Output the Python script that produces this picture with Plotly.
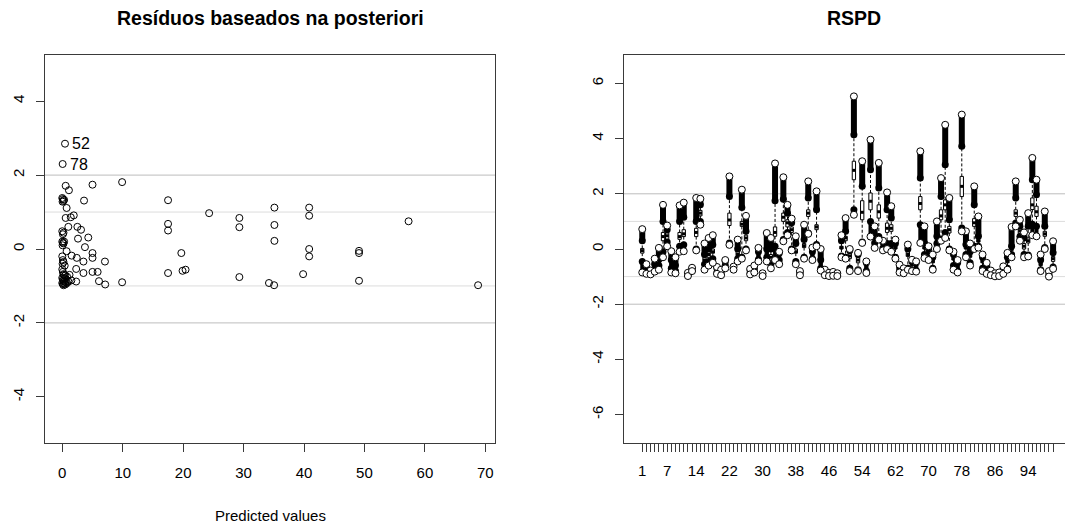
import plotly.graph_objects as go

# ---------------- left panel: posterior residuals vs predicted values ----------------
pred = [0.56, 1.1, 5.0, 9.9, 0.0, 0.1, 0.2, 0.05, 0.3, 3.6,
        0.72, 0.56, 1.4, 1.9, 1.0, 2.5, 3.1, 0.0, 0.1, 0.2,
        2.6, 4.3, 3.75, 0.0, 0.1, 0.2, 0.05, 0.3, 0.72, 1.55,
        2.4, 5.0, 5.0, 3.5, 7.06, 0.0, 0.1, 0.2, 0.05, 0.4,
        2.3, 3.5, 5.0, 5.85, 0.0, 0.1, 0.2, 0.3, 0.5, 0.8,
        1.2, 0.0, 0.1, 0.2, 0.3, 0.4, 0.6, 1.0, 1.5, 2.3,
        0.0, 0.1, 0.2, 0.3, 0.5, 0.8, 6.07, 7.1, 9.9, 17.5,
        17.5, 17.5, 17.5, 19.7, 19.9, 20.4, 24.3, 29.3, 29.3, 29.3,
        34.2, 35.05, 35.1, 35.1, 35.1, 39.85, 40.85, 40.85, 40.85, 40.85,
        49.1, 49.1, 49.1, 57.3, 68.8, 0.45, 0.06]
resid = [1.71, 1.59, 1.74, 1.81, 1.38, 1.35, 1.30, 1.28, 1.33, 1.31,
         1.11, 0.84, 0.86, 0.91, 0.60, 0.60, 0.52, 0.48, 0.40, 0.44,
         0.28, 0.31, 0.05, 0.20, 0.17, 0.15, 0.10, 0.20, -0.06, -0.18,
         -0.24, -0.11, -0.24, -0.34, -0.34, -0.20, -0.30, -0.35, -0.40, -0.45,
         -0.54, -0.65, -0.62, -0.62, -0.55, -0.62, -0.68, -0.70, -0.72, -0.75,
         -0.70, -0.78, -0.82, -0.85, -0.88, -0.80, -0.90, -0.88, -0.85, -0.88,
         -0.92, -0.95, -0.98, -0.93, -0.96, -0.92, -0.87, -0.96, -0.90, 1.32,
         0.68, 0.50, -0.65, -0.11, -0.59, -0.56, 0.97, 0.84, 0.59, -0.76,
         -0.92, -0.98, 1.12, 0.65, 0.22, -0.68, 1.12, 0.90, 0.00, -0.20,
         -0.05, -0.11, -0.86, 0.75, -0.98, 2.85, 2.30]
flag_ids = ["52", "78"]
flag_pred = [0.45, 0.06]
flag_resid = [2.85, 2.30]
left_ticks_x = [0, 10, 20, 30, 40, 50, 60, 70]
left_ticks_y = [-4, -2, 0, 2, 4]

# ---------------- right panel: per-observation residual distributions ----------------
obs = list(range(1, 101))
dn_lo = [-0.85, -0.90, -0.92, -0.82, -0.75, -0.30, 0.10, -0.85, -0.88, -0.10,
         -0.08, -0.98, -0.80, -0.05, 0.88, -0.75, -0.60, -0.50, -0.90, -0.95,
         -0.70, 0.15, -0.75, -0.45, -0.35, -0.05, -0.92, -0.85, -0.45, -0.98,
         -0.45, -0.70, -0.40, -0.55, 0.28, 0.50, -0.05, -0.55, -0.95, -0.35,
         0.55, -0.40, 0.10, -0.78, -0.95, -0.98, -0.97, -0.98, -0.30, -0.35,
         -0.80, 1.24, -0.80, 0.22, -0.87, 0.45, 0.04, 0.34, -0.05, 0.00,
         -0.10, -0.35, -0.85, -0.88, -0.75, -0.80, -0.82, 0.22, -0.33, -0.40,
         -0.75, 0.00, 0.30, 0.40, -0.05, -0.75, -0.85, 0.64, -0.30, -0.60,
         0.00, 0.05, -0.80, -0.90, -0.95, -0.99, -0.98, -0.90, -0.75, -0.30,
         0.82, 0.30, -0.30, -0.27, 0.50, 0.46, -0.80, 0.00, -1.00, -0.72]
dn_hi = [-0.45, -0.85, -0.90, -0.78, -0.60, -0.10, 0.25, -0.70, -0.80, 0.10,
         0.15, -0.95, -0.78, 0.00, 1.00, -0.55, -0.45, -0.35, -0.85, -0.90,
         -0.60, 0.22, -0.72, -0.35, -0.30, 0.00, -0.88, -0.80, -0.38, -0.95,
         -0.30, -0.55, 0.10, -0.40, 0.34, 0.60, 0.00, -0.45, -0.90, -0.30,
         0.58, -0.35, 0.16, -0.70, -0.90, -0.95, -0.94, -0.96, -0.25, -0.30,
         -0.70, 1.42, -0.75, 0.25, -0.80, 1.00, 0.22, 0.45, 0.04, 0.20,
         0.20, -0.30, -0.80, -0.85, -0.70, -0.75, -0.78, 0.88, -0.20, -0.35,
         -0.70, 0.20, 0.34, 0.60, 0.00, -0.60, -0.80, 0.76, -0.20, -0.50,
         0.10, 0.10, -0.70, -0.85, -0.92, -0.96, -0.95, -0.85, -0.70, -0.20,
         0.94, 0.45, -0.20, -0.22, 0.90, 0.82, -0.75, 0.05, -0.95, -0.65]
q1 = [-0.15, -0.80, -0.88, -0.72, -0.50, 0.30, 0.35, -0.60, -0.75, 0.35,
      0.45, -0.93, -0.76, 0.45, 1.20, -0.45, -0.30, -0.15, -0.80, -0.88,
      -0.55, 0.85, -0.70, -0.25, 0.82, 0.30, -0.85, -0.78, -0.30, -0.94,
      -0.20, -0.40, 0.46, -0.30, 1.00, 0.80, 0.60, -0.15, -0.88, 0.05,
      1.18, -0.25, 0.70, -0.60, -0.88, -0.93, -0.92, -0.95, 0.00, 0.30,
      -0.35, 2.51, -0.50, 1.06, -0.70, 1.42, 0.35, 1.12, 0.10, 0.60,
      0.64, 0.00, -0.75, -0.82, -0.27, -0.60, -0.70, 1.42, 0.00, -0.20,
      -0.50, 0.30, 1.06, 1.42, 0.58, -0.40, -0.70, 1.90, 0.00, -0.30,
      0.82, 0.25, -0.50, -0.75, -0.90, -0.95, -0.93, -0.80, -0.50, -0.05,
      1.18, 0.55, 0.00, 0.22, 1.43, 1.18, -0.60, 0.46, -0.92, -0.45]
med = [-0.06, -0.75, -0.86, -0.65, -0.45, 0.45, 0.48, -0.55, -0.70, 0.45,
       0.55, -0.92, -0.74, 0.60, 1.30, -0.40, -0.20, -0.10, -0.78, -0.86,
       -0.50, 1.05, -0.69, -0.20, 0.90, 0.40, -0.82, -0.76, -0.25, -0.93,
       -0.15, -0.30, 0.60, -0.25, 1.15, 0.95, 0.70, -0.10, -0.87, 0.12,
       1.30, -0.20, 0.80, -0.55, -0.86, -0.92, -0.91, -0.94, 0.05, 0.40,
       -0.25, 2.85, -0.40, 1.33, -0.65, 1.73, 0.40, 1.35, 0.15, 0.75,
       0.75, 0.05, -0.72, -0.80, -0.20, -0.55, -0.65, 1.65, 0.05, -0.15,
       -0.45, 0.35, 1.20, 1.60, 0.70, -0.35, -0.65, 2.27, 0.05, -0.25,
       0.95, 0.30, -0.45, -0.70, -0.88, -0.94, -0.92, -0.78, -0.45, 0.00,
       1.30, 0.65, 0.10, 0.30, 1.60, 1.35, -0.55, 0.55, -0.90, -0.35]
q3 = [0.02, -0.70, -0.84, -0.60, -0.42, 0.60, 0.58, -0.50, -0.65, 0.60,
      0.70, -0.90, -0.72, 0.75, 1.40, -0.30, -0.10, 0.00, -0.75, -0.84,
      -0.48, 1.30, -0.68, -0.10, 1.00, 0.50, -0.80, -0.74, -0.20, -0.92,
      -0.10, -0.20, 0.80, -0.20, 1.30, 1.06, 0.80, 0.00, -0.86, 0.20,
      1.42, -0.15, 0.88, -0.50, -0.84, -0.91, -0.90, -0.93, 0.10, 0.46,
      -0.15, 3.18, -0.30, 1.75, -0.60, 2.03, 0.45, 1.60, 0.20, 0.94,
      0.88, 0.10, -0.70, -0.78, -0.10, -0.50, -0.60, 1.90, 0.10, -0.10,
      -0.40, 0.40, 1.42, 1.78, 0.82, -0.30, -0.60, 2.63, 0.10, -0.20,
      1.10, 0.35, -0.40, -0.68, -0.86, -0.93, -0.91, -0.75, -0.40, 0.05,
      1.42, 0.75, 0.20, 0.40, 1.85, 1.55, -0.50, 0.64, -0.88, -0.27]
up_lo = [0.30, -0.62, -0.80, -0.55, -0.38, 1.00, 0.70, -0.40, -0.60, 1.00,
         1.15, -0.88, -0.70, 1.00, 1.60, -0.20, 0.00, 0.15, -0.70, -0.80,
         -0.45, 1.90, -0.66, 0.00, 1.50, 0.64, -0.78, -0.70, -0.10, -0.90,
         0.00, 0.00, 1.75, -0.15, 1.80, 1.30, 0.95, 0.20, -0.84, 0.34,
         1.85, -0.10, 1.42, -0.40, -0.80, -0.88, -0.87, -0.90, 0.30, 0.64,
         -0.05, 4.14, -0.20, 2.27, -0.50, 2.87, 0.46, 2.21, 0.25, 1.42,
         1.12, 0.20, -0.65, -0.74, 0.00, -0.45, -0.50, 2.57, 0.22, 0.00,
         -0.30, 0.46, 1.90, 3.05, 1.06, -0.20, -0.50, 3.72, 0.16, -0.10,
         1.60, 0.46, -0.30, -0.60, -0.82, -0.90, -0.88, -0.70, -0.30, 0.10,
         1.85, 0.82, 0.40, 0.82, 2.51, 1.97, -0.40, 0.82, -0.85, -0.14]
up_hi = [0.72, -0.55, -0.78, -0.35, 0.04, 1.60, 0.85, -0.08, -0.30, 1.58,
         1.68, -0.86, -0.68, 1.85, 1.82, 0.20, 0.40, 0.50, -0.65, -0.75,
         -0.40, 2.63, -0.64, 0.34, 2.15, 1.20, -0.72, -0.60, 0.04, -0.88,
         0.58, 0.40, 3.10, -0.10, 2.60, 1.60, 1.10, 0.46, -0.80, 0.88,
         2.45, 0.05, 2.09, 0.00, -0.75, -0.86, -0.83, -0.88, 0.50, 1.12,
         0.00, 5.53, -0.14, 3.18, -0.45, 3.96, 0.82, 3.12, 0.30, 2.05,
         1.55, 0.34, -0.57, -0.70, 0.16, -0.39, -0.45, 3.54, 0.82, 0.10,
         -0.20, 1.00, 2.57, 4.50, 1.85, -0.10, -0.40, 4.87, 0.64, 0.20,
         2.27, 1.18, -0.20, -0.50, -0.78, -0.88, -0.85, -0.63, -0.14, 0.80,
         2.45, 1.06, 0.60, 1.30, 3.30, 2.51, -0.20, 1.36, -0.80, 0.28]
right_labels = [1, 7, 14, 22, 30, 38, 46, 54, 62, 70, 78, 86, 94]
right_ticks_y = [-6, -4, -2, 0, 2, 4, 6]

FONT = "Liberation Sans, Arial, sans-serif"
AXC = "#3a3a3a"
half = 0.4  # half box width in observation units


def hy(v):
    # plain hyphen for negative tick labels
    return str(v).replace("\u2212", "-")


fig = go.Figure()

# left scatter
fig.add_trace(go.Scatter(
    x=pred, y=resid, mode="markers", xaxis="x", yaxis="y",
    marker=dict(symbol="circle-open", size=7, color="black", line=dict(width=1)),
    hoverinfo="skip"))

# whiskers (dashed)
wx, wy = [], []
for i, a, b, c, d in zip(obs, q3, up_lo, q1, dn_hi):
    wx += [i, i, None, i, i, None]
    wy += [a, b, None, c, d, None]
fig.add_trace(go.Scatter(x=wx, y=wy, mode="lines", xaxis="x2", yaxis="y2",
                         line=dict(color="black", width=1, dash="3px,2px"),
                         hoverinfo="skip"))

# boxes
bx, by = [], []
for i, lo, hi in zip(obs, q1, q3):
    bx += [i - half, i + half, i + half, i - half, i - half, None]
    by += [lo, lo, hi, hi, lo, None]
fig.add_trace(go.Scatter(x=bx, y=by, mode="lines", fill="toself",
                         fillcolor="white", xaxis="x2", yaxis="y2",
                         line=dict(color="black", width=1), hoverinfo="skip"))

# medians
mx, my = [], []
for i, m in zip(obs, med):
    mx += [i - half, i + half, None]
    my += [m, m, None]
fig.add_trace(go.Scatter(x=mx, y=my, mode="lines", xaxis="x2", yaxis="y2",
                         line=dict(color="black", width=3), hoverinfo="skip"))

# outlier clusters: dense stacks of circles
cx, cy = [], []
for i, a, b in zip(obs, up_lo, up_hi):
    cx += [i, i, None]
    cy += [a, b, None]
fig.add_trace(go.Scatter(x=cx, y=cy, mode="lines", xaxis="x2", yaxis="y2",
                         line=dict(color="black", width=6), hoverinfo="skip"))
lx, ly = [], []
for i, a, b in zip(obs, dn_lo, dn_hi):
    lx += [i, i, None]
    ly += [a, b, None]
fig.add_trace(go.Scatter(x=lx, y=ly, mode="lines", xaxis="x2", yaxis="y2",
                         line=dict(color="black", width=4), hoverinfo="skip"))
fig.add_trace(go.Scatter(
    x=obs + obs, y=up_lo + dn_hi, mode="markers",
    xaxis="x2", yaxis="y2",
    marker=dict(symbol="circle", size=7, color="black"), hoverinfo="skip"))
fig.add_trace(go.Scatter(
    x=obs + obs, y=up_hi + dn_lo, mode="markers", xaxis="x2", yaxis="y2",
    marker=dict(symbol="circle", size=7, color="white",
                line=dict(color="black", width=1)), hoverinfo="skip"))

# reference lines
shapes = []
for xr, yr in (("x domain", "y"), ("x2 domain", "y2")):
    for lv, col in ((2, "#bdbdbd"), (-2, "#bdbdbd"), (1, "#dcdcdc"), (-1, "#dcdcdc")):
        shapes.append(dict(type="line", xref=xr, yref=yr, x0=0, x1=1, y0=lv, y1=lv,
                           line=dict(color=col, width=1), layer="below"))

dom_y = [81 / 524, 469 / 524]
tickfont = dict(family=FONT, size=15, color="black")
common = dict(showgrid=False, zeroline=False, showline=True, linecolor=AXC,
              linewidth=1, ticks="outside", ticklen=8, tickcolor=AXC,
              tickwidth=1, tickfont=tickfont, automargin=False)

annotations = [
    dict(text="<b>Resíduos baseados na posteriori</b>", x=270 / 1065, y=1 - 18 / 524,
         xref="paper", yref="paper", showarrow=False, xanchor="center",
         yanchor="middle", font=dict(family=FONT, size=19.5, color="black")),
    dict(text="<b>RSPD</b>", x=854 / 1065, y=1 - 18 / 524,
         xref="paper", yref="paper", showarrow=False, xanchor="center",
         yanchor="middle", font=dict(family=FONT, size=19.5, color="black")),
    dict(text="Predicted values", x=270 / 1065, y=1 - 515 / 524,
         xref="paper", yref="paper", showarrow=False, xanchor="center",
         yanchor="middle", font=dict(family=FONT, size=15, color="black")),
]
# identifiers beside the flagged points
for lab, px, py in zip(flag_ids, flag_pred, flag_resid):
    annotations.append(dict(text=lab, x=px, y=py, xref="x", yref="y",
                            showarrow=False, xanchor="left", yanchor="middle",
                            xshift=5, font=dict(family=FONT, size=16, color="black")))

fig.update_layout(
    width=1065, height=524, margin=dict(l=0, r=0, t=0, b=0),
    paper_bgcolor="white", plot_bgcolor="white", showlegend=False,
    font=dict(family=FONT, color="black"),
    xaxis=dict(domain=[45 / 1065, 495 / 1065], range=[-2.86, 71.6],
               tickvals=left_ticks_x, ticklabelstandoff=8,
               mirror=True, anchor="y", **common),
    yaxis=dict(domain=dom_y, range=[-5.25, 5.25], tickvals=left_ticks_y,
               ticktext=[hy(v) for v in left_ticks_y], ticklabelstandoff=6,
               tickangle=-90, mirror=True, anchor="x", **common),
    xaxis2=dict(domain=[624 / 1065, 1.0], range=[-3.4, 102.87],
                tickvals=obs, ticklabelstandoff=6,
                ticktext=[str(v) if v in right_labels else "" for v in obs],
                mirror=True, anchor="y2", **common),
    yaxis2=dict(domain=dom_y, range=[-7.03, 7.03], tickvals=right_ticks_y,
                ticktext=[hy(v) for v in right_ticks_y], ticklabelstandoff=6,
                tickangle=-90, mirror=False, anchor="x2", **common),
    shapes=shapes,
    annotations=annotations,
)

fig.write_html("out.html")
